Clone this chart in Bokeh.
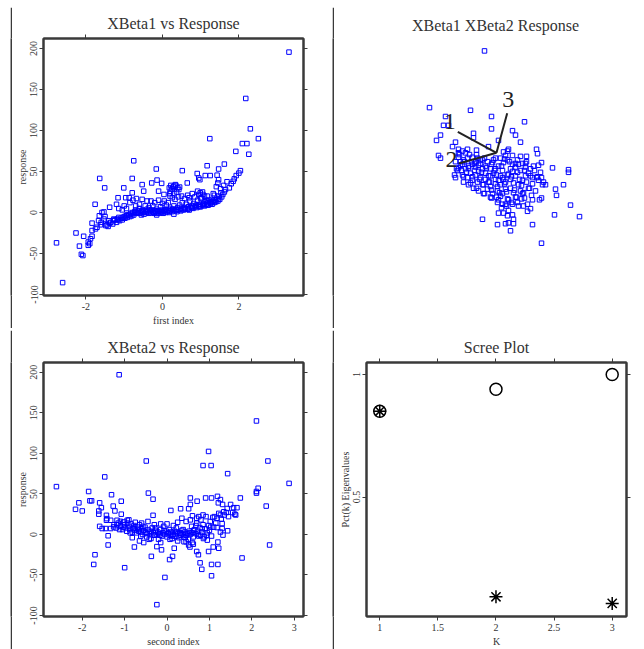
from bokeh.plotting import figure
from bokeh.models import Plot, Range1d, LinearAxis, FixedTicker, Spacer, CustomLabelingPolicy
from bokeh.layouts import column, row
from bokeh.embed import file_html
from bokeh.resources import INLINE
from bokeh.core.properties import value

# ---------------- tick values / labels ----------------
resp_ticks = [-100, -50, 0, 50, 100, 150, 200]
resp_tick_labels = ["-100", "-50", "0", "50", "100", "150", "200"]
xb1_ticks = [-2, 0, 2]
xb1_tick_labels = ["-2", "0", "2"]
xb2_ticks = [-2, -1, 0, 1, 2, 3]
xb2_tick_labels = ["-2", "-1", "0", "1", "2", "3"]
k_ticks = [1, 1.5, 2, 2.5, 3]
k_tick_labels = ["1", "1.5", "2", "2.5", "3"]
pct_ticks = [0.5, 1]
pct_tick_labels = ["0.5", "1"]

# ---------------- scree data ----------------
k_values = [1, 2, 3]
eig_pct = [0.85, 0.093, 0.066]
eig_cum = [0.85, 0.94, 1.0]

# ---------------- XBeta1 vs Response ----------------
xbeta1 = [
    3.31, 2.18, 2.30, 2.51, 1.24, 2.09, 2.21, 1.92, 2.26, -0.75,
    1.62, 1.17, -0.16, 0.52, 1.47, 2.04, 2.00, 1.93, 1.88, -1.64,
    -0.79, 0.91, 1.12, 1.25, 1.43, 0.95, 0.98, 1.69, 1.60, 1.52,
    1.47, 1.45, 1.41, -1.51, -1.01, -0.53, -0.28, -0.14, -0.02, 0.65,
    0.34, 0.30, 0.25, 0.21, 0.43, 0.37, 0.30, 0.92, 0.99, 1.06,
    1.17, 1.30, 1.36, 1.33, 1.53, 0.04, -0.79, -0.49, -0.10, 0.19,
    -1.16, -0.96, -0.87, -0.77, -0.68, -0.53, -0.40, -1.76, -1.38, -1.14,
    -1.05, -0.94, -1.58, -1.53, -1.84, -1.67, -1.53, -1.40, -1.27, -1.14,
    -1.71, -1.62, -1.84, -1.75, -2.26, -2.06, -1.84, -1.88, -1.94, -2.17,
    -1.94, -1.90, -2.12, -2.08, -2.77, -2.61,
    -1.45, -1.42, -1.35, -1.30, -1.25, -1.20, -1.18, -1.12, -1.08, -1.05,
    -1.00, -0.98, -0.95, -0.92, -0.88, -0.85, -0.82, -0.80, -0.78, -0.75,
    -0.72, -0.70, -0.68, -0.65, -0.62, -0.60, -0.58, -0.55, -0.52, -0.50,
    -0.48, -0.45, -0.42, -0.40, -0.38, -0.35, -0.32, -0.30, -0.28, -0.25,
    -0.22, -0.20, -0.18, -0.15, -0.12, -0.10, -0.08, -0.05, -0.02, 0.00,
    0.02, 0.05, 0.08, 0.10, 0.12, 0.15, 0.18, 0.20, 0.22, 0.25,
    0.28, 0.30, 0.32, 0.35, 0.38, 0.40, 0.42, 0.45, 0.48, 0.50,
    0.52, 0.55, 0.58, 0.60, 0.62, 0.65, 0.68, 0.70, 0.72, 0.75,
    0.78, 0.80, 0.82, 0.85, 0.88, 0.90, 0.92, 0.95, 0.98, 1.00,
    1.02, 1.05, 1.08, 1.10, 1.12, 1.15, 1.18, 1.20, 1.22, 1.25,
    1.28, 1.30, 1.32, 1.35, 1.38, 1.40, 1.42, 1.45, 1.48, 1.50,
    1.55, 1.58, 1.62, 1.65, 1.75, 1.80, 1.85, -1.60, -1.50, -1.65,
    0.18, 0.22, 0.28, 0.35, 0.40, 0.45, 0.20, 0.26, 0.33, 0.42,
    0.50, 0.58, 0.66, 0.70, 0.78, 0.85, 0.95, 1.00, 1.05, 1.10,
    1.15, -0.30, -0.20, -0.10, 0.00, 0.05, -0.60, -0.70, -0.85, -0.45,
    -0.35, -0.25, 0.10, 0.15, -0.05, -1.00, -1.20, -0.55, -0.15, 0.30,
    -1.48, -1.38, -1.28, -1.16, -1.03, -0.93, -0.83, -0.73, -0.63, -0.53,
    -0.43, -0.33, -0.23, -0.13, -0.03, 0.07, 0.17, 0.27, 0.37, 0.47,
    0.57, 0.67, 0.77, 0.87, 0.97, 1.07, 1.17, 1.27, 1.37, 1.47,
]
resp_vs_xbeta1 = [
    195.5, 139, 102, 90, 90, 84, 84, 74.5, 71, 63,
    59, 57, 53, 51, 53, 51, 48, 45, 41, 41.5,
    41.5, 47.5, 45, 45, 45.5, 42, 40, 37.5, 33, 29,
    40, 36, 31.5, 30, 30, 34, 36, 39.5, 35.5, 36,
    34, 32, 29, 26, 28, 25, 23, 26, 24, 22,
    20, 16, 21, 23, 24, 22, 24, 26, 26, 23,
    18, 18, 18, 15, 17, 16, 14, 10, 6.4, 4.8,
    3.2, 4.8, 0, 0.7, -13, -10, -8, -10, -8, -6,
    -18, -15, -22, -20, -25, -29, -29, -32, -36, -41,
    -40, -38, -51, -52.5, -37, -85.5,
    -15, -17, -12, -14, -9, -12, -8, -10, -7, -9,
    -5, -7, -4, -6, -3, -5, -2, -4, 0, -3,
    1, 3, -1, 0, 2, 5, -1, 1, 3, 0,
    -2, 2, 0, 4, 1, -1, 2, 0, 3, 1,
    -1, 2, 0, 4, 1, -1, 2, 0, 3, 1,
    -1, 2, 0, 4, 1, 3, 0, 2, 5, 1,
    3, 8, 2, 4, 1, 6, 3, 9, 2, 5,
    12, 3, 6, 4, 10, 5, 7, 3, 14, 6,
    8, 5, 11, 7, 9, 6, 15, 8, 10, 7,
    18, 9, 11, 8, 13, 10, 12, 9, 15, 11,
    13, 10, 14, 12, 15, 13, 17, 14, 20, 16,
    19, 22, 25, 28, 30, 35, 38, -12, -5, -4,
    30, 33, 31, 33, 30, 31, 20, 18, 16, 19,
    20, 17, 21, 18, 23, 19, 22, 17, 25, 20,
    15, 14, 12, 15, 11, 14, 10, 8, 12, 8,
    6, 8, 9, 12, 7, 8, 10, -3, -3, -2,
    -16, -13, -10, -9, -6, -3, -1, 0, 0, 2,
    1, 3, 0, 2, 1, 3, 2, 4, 3, 4,
    5, 4, 6, 8, 7, 10, 9, 12, 13, 16,
]

# ---------------- XBeta2 vs Response ----------------
xbeta2 = [
    -1.13, 2.11, 0.98, -0.49, 2.38, 0.85, 1.04, 1.43, -1.47, 2.88,
    -2.61, 2.15, 2.11, 2.11, -1.85, -1.31, -0.44, -0.33, 0.91, 1.05,
    1.19, 1.26, 1.21, 1.31, 1.73, 0.55, 0.55, 0.71, -2.16, -2.08,
    -2.00, -1.82, -1.78, -1.59, -1.55, -1.61, -1.61, -1.27, -1.23, -1.08,
    -1.08, 2.34, 1.50, 1.57, 1.65, 1.42, 1.34, 1.26, 1.18, 1.18,
    1.26, 1.43, 2.42, 1.77, -1.70, -1.73, -1.39, -1.39, -1.00, -0.77,
    -0.37, -0.24, -0.13, -0.05, -0.24, 0.06, 0.13, 0.17, 0.78, 0.82,
    0.70, 0.74, 0.98, 1.05, 1.05, 1.09, 1.20, 1.22, 1.20, 0.95,
    0.86, 0.79, 0.62, 0.54, -1.43, -1.42, -1.43, -1.33, -1.59, -1.53,
    -1.45, -1.33, -1.26, -1.18, -1.10, -1.02, -0.94, -0.33, 0.09, 0.32,
    0.51, 0.40, 0.51, 1.30, 1.30, 1.32,
    -1.25, -1.20, -1.15, -1.10, -1.05, -1.00, -0.98, -0.95, -0.90, -0.88,
    -0.85, -0.82, -0.80, -0.78, -0.75, -0.72, -0.70, -0.68, -0.65, -0.62,
    -0.60, -0.58, -0.55, -0.52, -0.50, -0.48, -0.45, -0.42, -0.40, -0.38,
    -0.35, -0.32, -0.30, -0.28, -0.25, -0.22, -0.20, -0.18, -0.15, -0.12,
    -0.10, -0.08, -0.05, -0.02, 0.00, 0.02, 0.05, 0.08, 0.10, 0.12,
    0.15, 0.18, 0.20, 0.22, 0.25, 0.28, 0.30, 0.32, 0.35, 0.38,
    0.40, 0.42, 0.45, 0.48, 0.50, 0.52, 0.55, 0.58, 0.60, 0.62,
    0.65, 0.68, 0.70, 0.72, 0.75, 0.78, 0.80, 0.82, 0.85, 0.88,
    0.90, 0.92, 0.95, 0.98, 1.00, 1.02, 1.05, 1.08, 1.10, 1.12,
    1.15, 1.22, 1.28, 1.35, 1.40, 1.45, 1.55, 1.60, 1.62,
    -0.90, -0.75, -0.60, -0.45, -0.30, -0.15, 0.00, 0.15, 0.25, 0.35,
    0.45, 0.55, 0.60, 0.70, 0.75, 0.85, -0.65, -0.55, -0.15, 0.25,
    0.45, 0.60,
    -1.18, -1.12, -1.03, -0.93, -0.87, -0.77, -0.67, -0.57, -0.47, -0.37,
    -0.27, -0.17, -0.07, 0.03, 0.13, 0.23, 0.33, 0.43, 0.53, 0.63,
    0.73, 0.83, 0.93, 1.03, -0.62, -0.42, 0.07, 0.38, 0.68, -0.82,
]
resp_vs_xbeta2 = [
    197, 140, 102.4, 90.6, 90.6, 85, 85, 75, 71, 63,
    59, 57, 53, 51, 53, 49, 51, 43.5, 45, 45,
    47, 43, 39, 37, 45, 45, 37, 41, 31, 39,
    29, 41.5, 41.5, 39, 33, 29, 25, 35, 29, 41,
    25, 35, 37, 33, 33, 32, 28, 24, 20, 8.5,
    3, 4.5, -13, -29, -25, -37, -13, -1.6, -41, -15.5,
    -27, -15, -19, -53, -86.6, -31, -27, -17, -35, -43,
    -21, -25, -21, -37, -51, -15.5, -9.4, -17, -37, -7,
    -5, -1, -12, -15.5, 23.6, 19.5, 17.5, 17.5, 10, 7.3,
    7.3, 7.3, 9.3, 17.5, 16.2, 15.4, 17.5, 23.6, 29.6, 31.7,
    31.7, -9, -13, 13.4, 7.3, -0.8,
    12, 8, 14, 10, 6, 12, 8, 4, 10, 6,
    13, 3, 8, 11, 5, 2, 9, 6, 12, 3,
    7, 0, 5, 9, 2, -3, 6, 1, 4, -5,
    8, 2, -1, 5, 0, 3, -6, 1, 6, -2,
    2, 10, 0, 4, -3, 1, 6, -1, 3, -5,
    0, 4, -2, 8, 1, -4, 2, -1, 5, 0,
    -3, 3, -1, 1, -6, 4, 0, 10, 2, -3,
    6, 1, 14, 4, -2, 8, 18, 3, 12, -3,
    7, 22, 2, 11, 5, 16, -2, 21, 9, 22,
    14, 26, 19, 24, 27, 22, 27, 25, 24,
    18, 15, 14, 16, 12, 13, 13, 11, 15, 20,
    16, 18, 23, 20, 22, 24, -8, -10, -10, -8,
    -9, -10,
    12, 6, 9, 14, 2, 7, 4, 10, 1, 3,
    8, -1, 5, 2, -2, 3, 1, -4, 2, 5,
    0, 7, -1, 9, -2, -6, -6, 6, 11, -4,
]

# ---------------- 3-D view (projected coordinates) ----------------
view_h = [
    -0.12, -0.67, -0.26, -0.05, 0.28, -0.51, -0.53, -0.48, -0.05, -0.23,
    -0.23, 0.16, 0.19, -0.56, -0.60, -0.41, -0.44, 0.02, 0.24, 0.40,
    0.41, -0.58, -0.56, 0.24, 0.30, 0.45, 0.56, 0.72, 0.72, 0.67,
    0.59, 0.60, 0.46, 0.49, 0.45, 0.40, 0.74, 0.83, 0.58, 0.45,
    0.43, 0.36, 0.45, 0.14, 0.17, 0.12, 0.09, 0.01, 0.17, -0.14,
    -0.41, 0.27, 0.31, 0.34, -0.05, -0.20, -0.08, 0.07, 0.11, 0.12,
    0.09, 0.26, 0.29, 0.42, -0.06,
    -0.38, -0.34, -0.29, -0.38, -0.36, -0.34, -0.38, -0.35, -0.31, -0.28,
    -0.24, -0.21, -0.26, -0.21, -0.18, -0.14, -0.11, -0.16, -0.11, -0.06,
    -0.03, -0.01, 0.02, 0.07, 0.11, 0.06, 0.11, 0.16, 0.19, 0.14,
    0.09, 0.04, -0.01, -0.06, 0.01, 0.06, 0.09, 0.14, 0.17, 0.22,
    0.26, 0.29, 0.32, 0.36, 0.42, 0.47, 0.33, 0.28, 0.31, 0.36,
    0.12, 0.09, 0.07, 0.12, 0.11, 0.04, 0.02, 0.01, 0.06, -0.32,
    -0.29, -0.24, -0.19, -0.14, -0.09, -0.04, -0.11, -0.16, -0.21, -0.06,
    -0.29, -0.24, -0.19, -0.14, -0.09, -0.04, 0.19, 0.24, 0.16, 0.22,
    0.29, 0.34, 0.37, 0.21, 0.16, 0.04, -0.01, 0.24, 0.19, 0.16,
    0.21, 0.26, 0.39, 0.07, 0.04, -0.01, -0.08, -0.41, -0.40, -0.42,
    -0.34, -0.33, -0.28, -0.23, -0.18, -0.13, -0.38,
    -0.37, -0.33, -0.36, -0.30, -0.33, -0.27, -0.25, -0.28, -0.22, -0.24,
    -0.20, -0.18, -0.15, -0.17, -0.13, -0.12, -0.10, -0.08, -0.07, -0.05,
    -0.03, -0.02, 0.00, 0.01, 0.03, 0.05, 0.06, 0.08, 0.10, 0.11,
    0.13, 0.14, 0.15, 0.17, 0.18, 0.20, 0.21, 0.23, 0.25, 0.27,
    0.28, 0.30, 0.32, 0.34, 0.36, 0.38, 0.41, 0.44, 0.05, 0.10,
    -0.31, -0.39, -0.26, -0.20, -0.12, 0.00, 0.15, 0.25, 0.35, -0.05,
    0.02, 0.12, 0.19, -0.16, -0.22, 0.08, 0.30, 0.22, 0.02, 0.16,
]
view_v = [
    1.15, 0.51, 0.48, 0.41, 0.35, 0.41, 0.31, 0.31, 0.27, 0.22,
    0.17, 0.25, 0.20, 0.20, 0.14, 0.12, 0.07, 0.14, 0.12, 0.04,
    -0.01, -0.03, -0.06, -0.04, -0.04, -0.11, -0.17, -0.19, -0.22, -0.36,
    -0.41, -0.48, -0.36, -0.36, -0.28, -0.28, -0.59, -0.72, -0.70, -0.51,
    -0.53, -0.81, -1.02, -0.88, -0.80, -0.79, -0.80, -0.81, -0.75, -0.75,
    -0.28, -0.60, -0.66, -0.63, -0.51, 0.03, 0.07, 0.01, 0.02, 0.04,
    -0.03, -0.12, -0.12, -0.14, -0.50,
    0.04, 0.02, 0.04, -0.05, -0.10, -0.13, -0.17, -0.20, -0.18, -0.15,
    -0.13, -0.16, -0.23, -0.25, -0.21, -0.18, -0.23, -0.28, -0.30, -0.26,
    -0.23, -0.18, -0.15, -0.11, -0.08, -0.20, -0.25, -0.21, -0.26, -0.30,
    -0.33, -0.36, -0.35, -0.38, -0.43, -0.46, -0.41, -0.40, -0.45, -0.36,
    -0.31, -0.26, -0.23, -0.28, -0.31, -0.33, -0.40, -0.51, -0.58, -0.53,
    -0.53, -0.58, -0.68, -0.65, -0.71, -0.49, -0.53, -0.56, -0.58, -0.10,
    -0.06, -0.05, -0.06, -0.08, -0.10, -0.11, -0.15, -0.12, -0.10, -0.18,
    -0.28, -0.31, -0.33, -0.36, -0.41, -0.46, -0.16, -0.20, -0.13, -0.13,
    -0.16, -0.18, -0.15, -0.08, -0.03, -0.06, -0.06, -0.43, -0.50, -0.58,
    -0.56, -0.46, -0.43, -0.30, -0.26, -0.30, -0.33, -0.10, -0.18, -0.25,
    -0.25, -0.33, -0.36, -0.40, -0.43, -0.46, 0.00,
    -0.02, -0.08, -0.14, -0.22, -0.27, -0.02, -0.10, -0.17, -0.20, -0.27,
    -0.02, -0.14, -0.22, -0.30, -0.36, -0.06, -0.17, -0.26, -0.33, -0.42,
    -0.08, -0.20, -0.25, -0.38, -0.45, -0.15, -0.28, -0.35, -0.44, -0.52,
    -0.10, -0.18, -0.27, -0.34, -0.42, -0.50, -0.22, -0.30, -0.37, -0.45,
    -0.20, -0.33, -0.40, -0.26, -0.35, -0.20, -0.27, -0.22, -0.62, -0.60,
    0.00, -0.20, -0.34, -0.40, -0.46, -0.50, -0.56, -0.52, -0.48, -0.13,
    -0.31, -0.24, -0.12, -0.08, -0.12, -0.07, -0.10, -0.60, -0.68, -0.70,
]
triad_u0 = [0, 0, 0]
triad_v0 = [0, 0, 0]
triad_u1 = [-0.387, -0.377, 0.107]
triad_v1 = [0.237, -0.12, 0.447]
triad_label_u = [-0.467, -0.45, 0.117]
triad_label_v = [0.353, -0.08, 0.603]
triad_names = ["1", "2", "3"]

# ---------------- styling helpers ----------------
FONT = "Liberation Serif"
LINE = "#3a3a3a"
TEXT = "#333333"
BLUE = "#0000ff"
HIDE_ALL = "for (const i of indices) { indices.unset(i) }\nreturn indices"


def bar(w, h):
    return Plot(width=w, height=h, min_border=0, toolbar_location=None, title=None,
                outline_line_color=None, background_fill_color=LINE,
                border_fill_color=LINE, output_backend="svg",
                x_range=Range1d(0, 1), y_range=Range1d(0, 1))


def style_axis(ax, show_labels):
    ax.axis_line_color = LINE
    ax.axis_line_width = 2
    ax.major_tick_line_color = LINE
    ax.major_tick_line_width = 1
    ax.major_tick_out = 4
    ax.major_tick_in = 0
    ax.minor_tick_line_color = None
    ax.major_label_text_font = FONT
    ax.major_label_text_color = TEXT
    ax.axis_label_text_font = FONT
    ax.axis_label_text_font_size = "10px"
    ax.axis_label_text_font_style = "normal"
    ax.axis_label_text_color = TEXT
    ax.axis_label_standoff = 2
    if show_labels:
        ax.major_label_text_font_size = "10px"
        ax.major_label_standoff = 3
    else:
        ax.major_label_text_font_size = "1px"
        ax.major_label_standoff = 0
        ax.major_label_policy = CustomLabelingPolicy(code=HIDE_ALL)


def add_axes(p, xt, xl, yt, yl, xlabel, ylabel):
    for side in ("below", "above"):
        ax = LinearAxis(ticker=FixedTicker(ticks=xt),
                        major_label_overrides=dict(zip(xt, xl)))
        style_axis(ax, side == "below")
        if side == "below":
            ax.axis_label = xlabel
        p.add_layout(ax, side)
    for side in ("left", "right"):
        ax = LinearAxis(ticker=FixedTicker(ticks=yt),
                        major_label_overrides=dict(zip(yt, yl)))
        style_axis(ax, side == "left")
        if side == "left":
            ax.axis_label = ylabel
            ax.major_label_orientation = "vertical"
            ax.major_label_standoff = 2
            ax.axis_label_standoff = 0
        p.add_layout(ax, side)


def make_panel(title, w, h, xr, yr, mbl, mbr, mbt, mbb, outline=True, standoff=-2):
    p = figure(width=w, height=h, x_range=xr, y_range=yr,
               x_axis_type=None, y_axis_type=None, title=title,
               toolbar_location=None, output_backend="svg",
               min_border_left=mbl, min_border_right=mbr,
               min_border_top=mbt, min_border_bottom=mbb,
               outline_line_color=LINE if outline else None,
               outline_line_width=2,
               background_fill_color="white", border_fill_color="white")
    p.title.text_font = FONT
    p.title.text_font_size = "16px"
    p.title.text_font_style = "normal"
    p.title.text_color = TEXT
    p.title.align = "center"
    p.title.standoff = standoff
    return p


TOP_H = 321
BOT_H = 319
LEFT_W = 320
RIGHT_W = 310
FULL_W = 10 + 2 + LEFT_W + 2 + RIGHT_W

# panel 1
p1 = make_panel("XBeta1 vs Response", LEFT_W, TOP_H, (-3.11, 3.69), (-101.2, 212.1), 31, 29, 31, 31)
add_axes(p1, xb1_ticks, xb1_tick_labels, resp_ticks, resp_tick_labels, "first index", "response")
p1.scatter(xbeta1, resp_vs_xbeta1, marker="square", size=4.5, line_color=BLUE,
           fill_color=None, line_width=1)

# panel 2 (rotated 3-D view)
p2 = make_panel("XBeta1 XBeta2 Response", RIGHT_W, TOP_H, (-1.50, 1.48), (-1.61, 1.29),
                12, 0, 31, 0, outline=False, standoff=9)
p2.scatter(view_h, view_v, marker="square", size=4.5, line_color=BLUE,
           fill_color=None, line_width=1)
p2.segment(x0=triad_u0, y0=triad_v0, x1=triad_u1, y1=triad_v1,
           line_color="#222222", line_width=2)
p2.text(x=triad_label_u, y=triad_label_v, text=triad_names,
        text_font=value(FONT), text_font_size="24px", text_color="#222222",
        text_align="center", text_baseline="middle")

# panel 3
p3 = make_panel("XBeta2 vs Response", LEFT_W, BOT_H, (-2.915, 3.22), (-101.2, 212.1), 31, 29, 32, 30)
add_axes(p3, xb2_ticks, xb2_tick_labels, resp_ticks, resp_tick_labels, "second index", "response")
p3.scatter(xbeta2, resp_vs_xbeta2, marker="square", size=4.5, line_color=BLUE,
           fill_color=None, line_width=1)

# panel 4 (scree)
p4 = make_panel("Scree Plot", RIGHT_W, BOT_H, (0.886, 3.123), (0.0125, 1.049), 32, 18, 32, 29)
add_axes(p4, k_ticks, k_tick_labels, pct_ticks, pct_tick_labels, "K", "Pct(k) Eigenvalues")
p4.scatter(k_values, eig_cum, marker="circle", size=12, line_color="black",
           fill_color=None, line_width=1.5)
p4.scatter(k_values, eig_pct, marker="asterisk", size=13, line_color="black",
           line_width=1.5)

layout = column(
    Spacer(width=FULL_W, height=5),
    row(Spacer(width=10, height=2), bar(FULL_W - 10, 2)),
    row(Spacer(width=10, height=TOP_H), bar(2, TOP_H), p1, bar(2, TOP_H), p2),
    row(Spacer(width=10, height=2), bar(FULL_W - 10, 2)),
    row(Spacer(width=10, height=BOT_H), bar(2, BOT_H), p3, bar(2, BOT_H), p4),
)

open("out.html", "w").write(file_html(layout, INLINE))
